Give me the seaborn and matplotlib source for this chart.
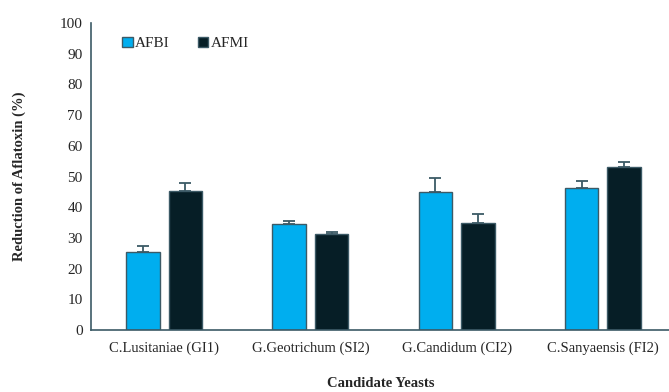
import pandas as pd
import seaborn as sns
import matplotlib
matplotlib.use("Agg")
import matplotlib.pyplot as plt

yeasts = ["C.Lusitaniae (GI1)", "G.Geotrichum (SI2)", "G.Candidum (CI2)", "C.Sanyaensis (FI2)"]
afbi = [25.3, 34.6, 44.8, 46.3]
afmi = [45.4, 31.3, 34.8, 53.0]
afbi_err = [2.2, 0.8, 4.6, 2.2]
afmi_err = [2.4, 0.7, 3.0, 1.6]

df = pd.DataFrame({
    "Yeast": yeasts * 2,
    "Reduction": afbi + afmi,
    "Toxin": ["AFBI"] * 4 + ["AFMI"] * 4,
})

sns.set_style("white")
plt.rcParams["font.family"] = ["Liberation Serif", "DejaVu Serif"]

fig = plt.figure(figsize=(6.69, 3.92), dpi=100)
ax = fig.add_axes([91 / 669, 62 / 392, 585 / 669, 307 / 392])

colors = {"AFBI": "#00AEEF", "AFMI": "#061E26"}
sns.barplot(data=df, x="Yeast", y="Reduction", hue="Toxin", palette=colors,
            width=0.58, gap=0.21, edgecolor="#3C5A66", linewidth=1.0,
            saturation=1, errorbar=None, ax=ax)

# upward error bars only
errs = afbi_err + afmi_err
for patch, e in zip(ax.patches[:8], errs):
    x = patch.get_x() + patch.get_width() / 2
    h = patch.get_height()
    ax.errorbar(x, h, yerr=[[0], [e]], fmt="none", ecolor="#3C5A66",
                elinewidth=1.3, capsize=4.5, capthick=1.3)

ax.set_ylim(0, 100)
ax.set_xlim(-0.5, 3.5)
ax.set_yticks(range(0, 101, 10))
ax.tick_params(axis="y", length=0, labelsize=11, pad=6)
ax.tick_params(axis="x", which="major", length=0, labelsize=10.5, pad=8)
ax.set_xticks([-0.5, 0.5, 1.5, 2.5, 3.5], minor=True)
ax.tick_params(axis="x", which="minor", length=5, width=1, color="#3C5A66", direction="out")

for s in ["top", "right"]:
    ax.spines[s].set_visible(False)
for s in ["left", "bottom"]:
    ax.spines[s].set_color("#3C5A66")
    ax.spines[s].set_linewidth(1.2)

ax.set_ylabel("Reduction of Aflatoxin (%)", fontsize=10.5, fontweight="bold", labelpad=24)
ax.set_xlabel("Candidate Yeasts", fontsize=10.5, fontweight="bold")
ax.xaxis.set_label_coords(0.496, -0.152)

leg = ax.legend(loc="upper left", bbox_to_anchor=(0.03, 1.0), ncol=2, frameon=False,
                fontsize=11, handlelength=0.7, handleheight=0.7, handletextpad=0.15,
                columnspacing=1.8, title=None)

fig.savefig("out.png", dpi=100)
